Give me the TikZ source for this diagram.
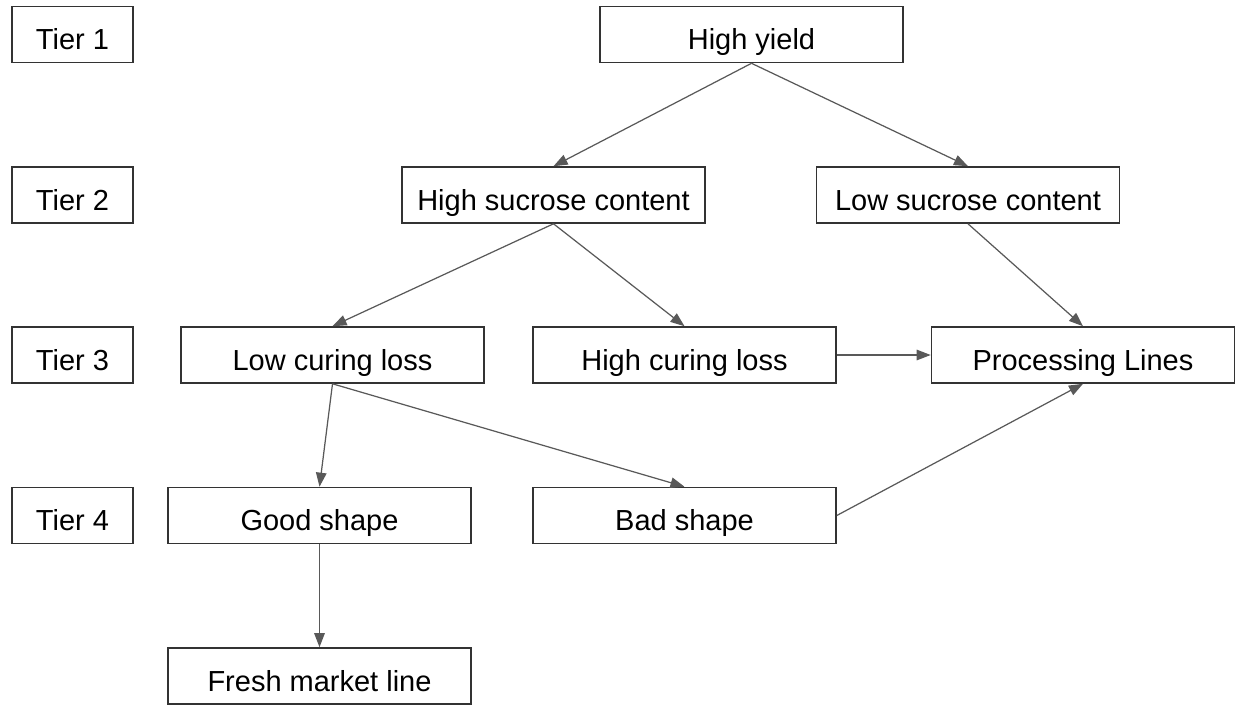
\documentclass[tikz,border=0pt]{standalone}
\usepackage{fontspec}
\setmainfont{Liberation Sans}
\usetikzlibrary{arrows.meta}
\definecolor{edgegray}{HTML}{595959}
\definecolor{boxline}{HTML}{333333}
\begin{document}
\begin{tikzpicture}[
    box/.style={draw=boxline, line width=0.9pt, minimum width=6.06cm, minimum height=1.12cm,
      inner sep=0pt, font=\fontsize{16.5}{18}\selectfont, text height=20pt, text depth=2.4pt},
    tier/.style={box, minimum width=2.42cm}
  ]
      \useasboundingbox (0,0) rectangle (24.76,-14.08);
      \draw
        (1.45,-0.69) node[tier] (t1){Tier 1}
        (1.45,-3.90) node[tier] (t2){Tier 2}
        (1.45,-7.10) node[tier] (t3){Tier 3}
        (1.45,-10.31) node[tier] (t4){Tier 4}
        (15.03,-0.69) node[box] (hy){High yield}
        (11.07,-3.90) node[box] (hs){High sucrose content}
        (19.36,-3.90) node[box] (ls){Low sucrose content}
        (6.65,-7.10) node[box] (lcl){Low curing loss}
        (13.69,-7.10) node[box] (hcl){High curing loss}
        (21.66,-7.10) node[box] (pl){Processing Lines}
        (6.39,-10.31) node[box] (gs){Good shape}
        (13.69,-10.31) node[box] (bs){Bad shape}
        (6.39,-13.52) node[box] (fm){Fresh market line};
      \begin{scope}[-{Triangle[length=8pt,width=6pt]}, draw=edgegray, line width=0.7pt]
        \draw (hy.south) to (hs.north);
        \draw (hy.south) to (ls.north);
        \draw (hs.south) to (lcl.north);
        \draw (hs.south) to (hcl.north);
        \draw (ls.south) to (pl.north);
        \draw (hcl.east) to (pl.west);
        \draw (lcl.south) to (gs.north);
        \draw (lcl.south) to (bs.north);
        \draw (bs.east) to (pl.south);
        \draw (gs.south) to (fm.north);
      \end{scope}
    \end{tikzpicture}
\end{document}
